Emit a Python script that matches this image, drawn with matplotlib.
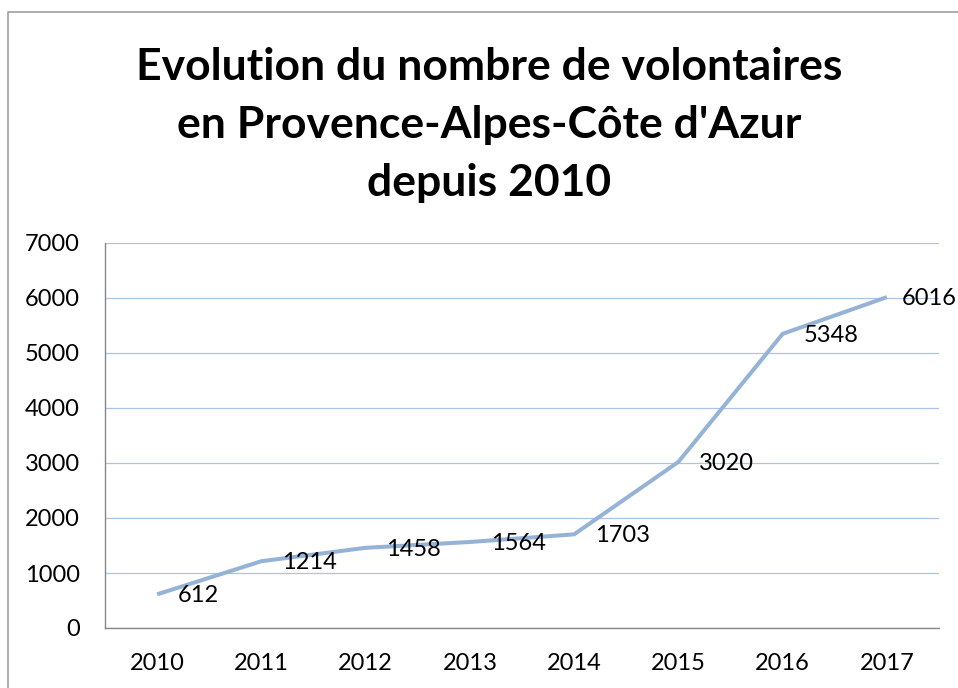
import matplotlib.pyplot as plt
from matplotlib.lines import Line2D

# data
annees = ["2010", "2011", "2012", "2013", "2014", "2015", "2016", "2017"]
volontaires = [612, 1214, 1458, 1564, 1703, 3020, 5348, 6016]
yticks = [0, 1000, 2000, 3000, 4000, 5000, 6000, 7000]

plt.rcParams['font.family'] = ['Lato', 'DejaVu Sans']

fig = plt.figure(figsize=(9.58, 6.88), dpi=100)
ax = fig.add_axes([105/958, 1-628/688, (939-105)/958, (628-243)/688])

x = range(len(annees))
ax.plot(x, volontaires, color='#95B3D7', lw=2.9, solid_capstyle='butt')

# data labels to the right of each point (last one squeezed to stay inside)
for i, v in zip(x, volontaires):
    dx = 15 if i < len(annees) - 1 else 11
    ax.annotate(str(v), (i, v), xytext=(dx, -1), textcoords='offset points',
                ha='left', va='center', fontsize=17, annotation_clip=False)

ax.set_xlim(-0.5, len(annees)-0.5)
ax.set_ylim(0, 7000)
ax.set_xticks(list(x))
ax.set_xticklabels(annees)
ax.set_yticks(yticks)
ax.tick_params(length=0, labelsize=17, pad=18)
ax.grid(axis='y', color='#A9C4E6', lw=0.9)
ax.set_axisbelow(True)
for s in ['top', 'right']:
    ax.spines[s].set_visible(False)
for s in ['left', 'bottom']:
    ax.spines[s].set_color('#888888')
    ax.spines[s].set_linewidth(1.0)

# title
tx = 489/958
fig.text(tx, 1-80/688, "Evolution du nombre de volontaires", ha='center', va='baseline',
         fontsize=32, fontweight='bold')
fig.text(tx, 1-138/688, "en Provence-Alpes-Côte d'Azur", ha='center', va='baseline',
         fontsize=32, fontweight='bold')
fig.text(tx, 1-196/688, "depuis 2010", ha='center', va='baseline',
         fontsize=32, fontweight='bold')

# chart frame (cut off on right and bottom)
fig.add_artist(Line2D([8/958, 8/958, 1], [0, 1-12/688, 1-12/688],
                      transform=fig.transFigure, color='#A0A0A0', lw=1.2))

plt.savefig('out.png', dpi=100)
